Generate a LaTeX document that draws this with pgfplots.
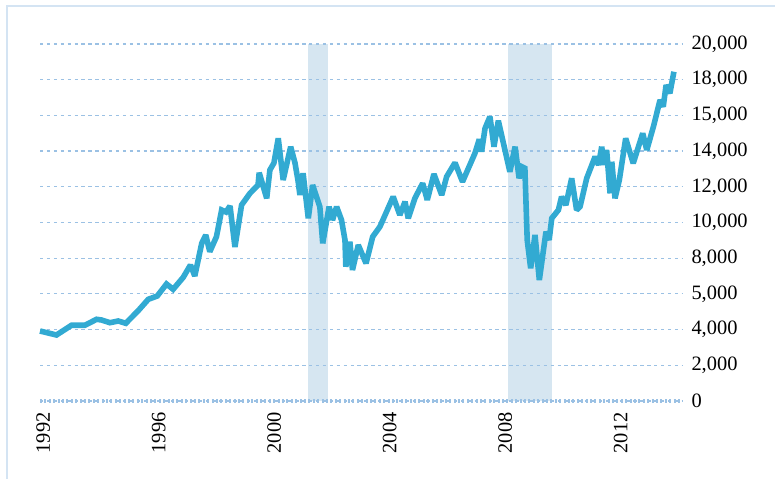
\documentclass[border=0pt]{standalone}
\usepackage{pgfplots}
\pgfplotsset{compat=1.18}
\usepackage{fontspec}
\setmainfont{Liberation Serif}
\definecolor{linec}{RGB}{50,170,210}
\definecolor{shadec}{RGB}{214,230,241}
\definecolor{gridc}{RGB}{155,193,228}
\definecolor{framec}{RGB}{212,228,243}
\pgfplotstableread{
x y
1991.89 3921
1992.46 3697
1992.98 4241
1993.44 4241
1993.85 4577
1994.02 4538
1994.31 4386
1994.60 4482
1994.86 4353
1995.29 5059
1995.64 5697
1995.95 5882
1996.27 6554
1996.50 6257
1996.85 6930
1997.10 7619
1997.25 7003
1997.49 8834
1997.63 9299
1997.77 8364
1998.00 9204
1998.18 10700
1998.33 10588
1998.47 10924
1998.64 8627
1998.87 10980
1999.16 11635
1999.44 12100
1999.48 12789
1999.74 11355
1999.85 12941
1999.99 13333
2000.14 14716
2000.31 12380
2000.57 14246
2000.72 13333
2000.83 12285
2000.89 11540
2001.00 12756
2001.18 10235
2001.33 12100
2001.58 10885
2001.68 8834
2001.90 10885
2002.02 10140
2002.16 10885
2002.33 10140
2002.45 9019
2002.48 7524
2002.62 8924
2002.71 7339
2002.91 8739
2003.18 7714
2003.41 9204
2003.66 9765
2004.12 11445
2004.35 10420
2004.53 11165
2004.64 10235
2004.87 11355
2005.14 12196
2005.30 11260
2005.53 12717
2005.80 11540
2005.97 12565
2006.26 13350
2006.52 12285
2006.95 13876
2007.10 14661
2007.18 13966
2007.30 15277
2007.47 15927
2007.61 14246
2007.76 15702
2008.16 12845
2008.34 14246
2008.48 12476
2008.57 13126
2008.68 13036
2008.76 9019
2008.88 7434
2009.03 9299
2009.18 6778
2009.41 9484
2009.52 9019
2009.61 10235
2009.84 10700
2009.95 11445
2010.10 10980
2010.30 12476
2010.47 10700
2010.59 10885
2010.82 12476
2011.11 13686
2011.23 13221
2011.34 14246
2011.42 13221
2011.51 14061
2011.63 11635
2011.69 13405
2011.80 11355
2011.95 12380
2012.17 14716
2012.43 13316
2012.76 14997
2012.90 14061
2013.13 15366
2013.36 16862
2013.47 16487
2013.57 17702
2013.70 17237
2013.84 18447
}\datatable
\begin{document}
\begin{tikzpicture}
\begin{axis}[
  set layers,
  scale only axis,
  width=642bp, height=357bp,
  at={(0,0)}, anchor=south west,
  xmin=1991.89, xmax=2014.12,
  ymin=0, ymax=20000,
  enlargelimits=false,
  clip=false,
  scaled y ticks=false,
  axis line style={draw=none},
  major tick length=0pt,
  xtick={1992,1996,2000,2004,2008,2012},
  xticklabels={1992,1996,2000,2004,2008,2012},
  xticklabel style={rotate=90, anchor=east, font=\fontsize{20.5}{24}\selectfont, xshift=-8bp},
  ytick={0,2000,4000,6000,8000,10000,12000,14000,16000,18000,20000},
  yticklabels={{0},{2,000},{4,000},{5,000},{8,000},{10,000},{12,000},{14,000},{15,000},{18,000},{20,000}},
  yticklabel pos=right,
  yticklabel style={anchor=west, font=\fontsize{20.5}{24}\selectfont, xshift=6bp},
  ymajorgrids,
  grid style={gridc, line width=1.2bp, dash pattern=on 3.3bp off 3.6bp},
  /pgf/number format/assume math mode=true,
]
\addplot[fill=shadec, draw=none, on layer=axis background] coordinates {(2001.17,0) (2001.17,20000) (2001.86,20000) (2001.86,0)} -- cycle;
\addplot[fill=shadec, draw=none, on layer=axis background] coordinates {(2008.09,0) (2008.09,20000) (2009.62,20000) (2009.62,0)} -- cycle;
\draw[gridc, line width=4bp, dash pattern=on 2bp off 2.4bp] (axis cs:1991.89,0) -- (axis cs:2014.12,0);
\addplot[linec, line width=5.6bp, line join=miter, miter limit=2, mark=none] table[x=x,y=y] {\datatable};
\end{axis}
\draw[framec, line width=2.3bp] (-33bp,-80bp) -- (-33bp,395bp) -- (740bp,395bp);
\pgfresetboundingbox
\path[use as bounding box] (-40bp,-78bp) rectangle (735bp,401bp);
\end{tikzpicture}
\end{document}
